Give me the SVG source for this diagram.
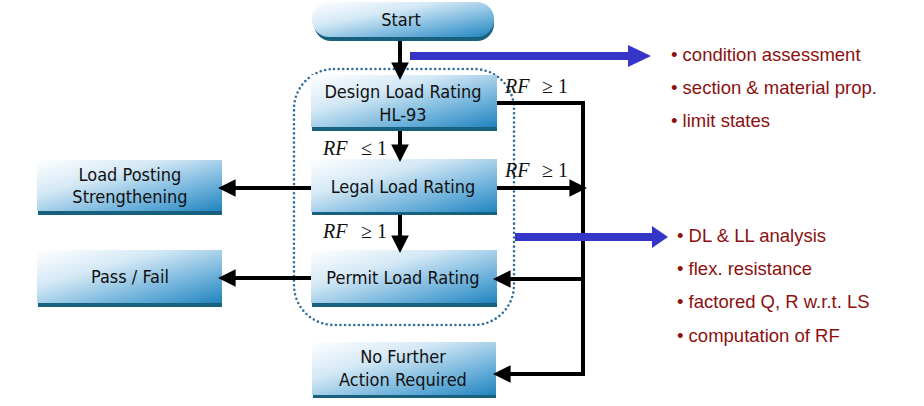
<svg xmlns="http://www.w3.org/2000/svg" width="924" height="406" viewBox="0 0 924 406">
<defs>
<linearGradient id="g" x1="0" y1="0" x2="1" y2="1">
<stop offset="0" stop-color="#ffffff"/>
<stop offset="0.35" stop-color="#d3e8f5"/>
<stop offset="0.75" stop-color="#64acd8"/>
<stop offset="1" stop-color="#2184be"/>
</linearGradient>
<marker id="ah" markerWidth="4.4" markerHeight="4.4" refX="3.4" refY="2.2" orient="auto" markerUnits="strokeWidth">
<path d="M0,0 L4.4,2.2 L0,4.4 Z" fill="#000"/>
</marker>
<style>
.box{fill:url(#g);}
.sh{fill:#17607e;}
.t{font-family:"DejaVu Sans Condensed","Liberation Sans",sans-serif;font-size:18px;fill:#111;text-anchor:middle;}
.c{stroke:#000;stroke-width:4;fill:none;}
.rf{font-family:"Liberation Serif",serif;font-size:20px;fill:#111;}
.b{font-family:"Liberation Sans",sans-serif;font-size:18.5px;fill:#8b1010;}
.blue{fill:#3535c8;}
</style>
</defs>
<rect width="924" height="406" fill="#fff"/>

<rect x="294" y="69" width="220" height="256" rx="40" fill="none" stroke="#2f6e9c" stroke-width="2.6" stroke-dasharray="0 4.6" stroke-linecap="round"/>

<g id="start">
<rect x="314" y="6" width="180" height="35" rx="17" class="sh"/>
<rect x="312" y="2" width="182" height="35" rx="17" class="box"/>
<text x="401" y="26" class="t">Start</text>
</g>
<g id="design">
<rect x="312" y="123" width="185" height="8" class="sh"/>
<rect x="311" y="75" width="186" height="52" class="box"/>
<text x="403" y="98" class="t">Design Load Rating</text>
<text x="403" y="121" class="t">HL-93</text>
</g>
<g id="legal">
<rect x="312" y="208" width="185" height="7" class="sh"/>
<rect x="311" y="159" width="186" height="53" class="box"/>
<text x="403" y="193" class="t">Legal Load Rating</text>
</g>
<g id="permit">
<rect x="312" y="299" width="185" height="8" class="sh"/>
<rect x="311" y="250" width="186" height="53" class="box"/>
<text x="403" y="284" class="t">Permit Load Rating</text>
</g>
<g id="nofurther">
<rect x="313" y="391" width="183" height="7" class="sh"/>
<rect x="312" y="342" width="184" height="53" class="box"/>
<text x="403" y="363" class="t">No Further</text>
<text x="403" y="386" class="t">Action Required</text>
</g>
<g id="posting">
<rect x="38" y="207" width="184" height="8" class="sh"/>
<rect x="37" y="160" width="185" height="51" class="box"/>
<text x="130" y="181" class="t">Load Posting</text>
<text x="130" y="203" class="t">Strengthening</text>
</g>
<g id="passfail">
<rect x="38" y="299" width="184" height="8" class="sh"/>
<rect x="37" y="250" width="185" height="53" class="box"/>
<text x="130" y="283" class="t">Pass / Fail</text>
</g>

<g id="connectors">
<line x1="400" y1="41" x2="400" y2="76" class="c" marker-end="url(#ah)"/>
<line x1="400" y1="131" x2="400" y2="158" class="c" marker-end="url(#ah)"/>
<line x1="400" y1="215" x2="400" y2="249" class="c" marker-end="url(#ah)"/>
<polyline points="497,103 583,103 583,374 497,374" class="c" marker-end="url(#ah)"/>
<line x1="497" y1="188" x2="583" y2="188" class="c" marker-end="url(#ah)"/>
<line x1="583" y1="279" x2="497" y2="279" class="c" marker-end="url(#ah)"/>
<line x1="311" y1="188" x2="222" y2="188" class="c" marker-end="url(#ah)"/>
<line x1="311" y1="278" x2="222" y2="278" class="c" marker-end="url(#ah)"/>
<path d="M410,52 H628 V45 L651,56 L628,67 V60 H410 Z" class="blue"/>
<path d="M515,233 H652 V226 L668,237 L652,248 V241 H515 Z" class="blue"/>
</g>

<g id="labels">
<text x="505" y="93" class="rf"><tspan font-style="italic">RF</tspan><tspan x="542">≥ 1</tspan></text>
<text x="505" y="177" class="rf"><tspan font-style="italic">RF</tspan><tspan x="542">≥ 1</tspan></text>
<text x="323" y="155" class="rf"><tspan font-style="italic">RF</tspan><tspan x="361">≤ 1</tspan></text>
<text x="323" y="238" class="rf"><tspan font-style="italic">RF</tspan><tspan x="361">≥ 1</tspan></text>
</g>

<g id="bullets">
<text x="671" y="61" class="b">• condition assessment</text>
<text x="671" y="94" class="b">• section &amp; material prop.</text>
<text x="671" y="127" class="b">• limit states</text>
<text x="677" y="242" class="b">• DL &amp; LL analysis</text>
<text x="677" y="275" class="b">• flex. resistance</text>
<text x="677" y="308" class="b">• factored Q, R w.r.t. LS</text>
<text x="677" y="342" class="b">• computation of RF</text>
</g>
</svg>
